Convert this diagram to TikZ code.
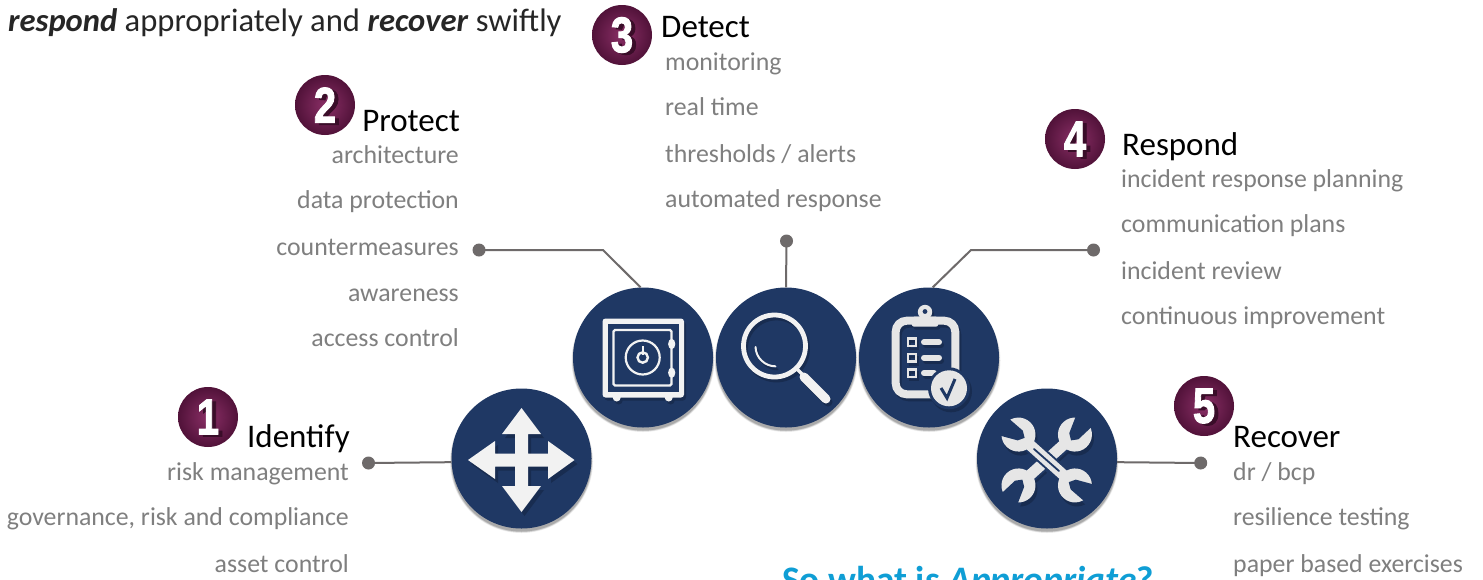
\documentclass[tikz,border=0pt]{standalone}
\usepackage{fontspec}
\usepackage{graphicx}
\setmainfont{Carlito}
\newfontfamily\digitfont[BoldFeatures={FakeBold=2.2}]{Liberation Sans}
\definecolor{navy}{HTML}{1F3864}
\definecolor{navyshadow}{HTML}{182C50}
\definecolor{itemgray}{HTML}{7F7F7F}
\definecolor{linegray}{HTML}{6E6A6A}
\definecolor{iconlight}{HTML}{F2F2F2}
\definecolor{iconpale}{HTML}{E6E6E6}
\definecolor{plumin}{HTML}{8A2F66}
\definecolor{plumout}{HTML}{511239}
\definecolor{plumdark}{HTML}{3A0D29}
\definecolor{skyblue}{HTML}{0F9ED5}
\definecolor{leadtext}{HTML}{262626}
\tikzset{
  itemleft/.style={anchor=base west,inner sep=0pt,text=itemgray,font=\fontsize{25.8}{25.8}\selectfont},
  itemright/.style={anchor=base east,inner sep=0pt,text=itemgray,font=\fontsize{25.8}{25.8}\selectfont},
  headleft/.style={anchor=base west,inner sep=0pt,text=black,font=\fontsize{33}{33}\selectfont},
  headright/.style={anchor=base east,inner sep=0pt,text=black,font=\fontsize{33}{33}\selectfont},
  iconcircle/.style={circle,fill=navy,minimum size=140pt,inner sep=0pt},
  dotnode/.style={circle,fill=linegray,minimum size=13pt,inner sep=0pt},
  link/.style={draw=linegray,line width=2pt},
  badge/.style={circle,minimum size=60pt,inner sep=0pt,inner color=plumin,outer color=plumout,shade},
  digit/.style={inner sep=0pt,font=\digitfont\bfseries\fontsize{50}{50}\selectfont},
}
\newcommand{\softshadow}[2]{%
  \foreach \r/\o in {71.5/.06,71/.08,70.5/.1,70/.14}{\fill[black,opacity=\o] (#1,#2+3) circle (\r);}}
\newcommand{\numberbadge}[4]{%
  \node[badge] (#1) at (#2,#3) {};
  \node[digit,text=plumdark] (#1s) at (#2+4,#3+2) {\scalebox{.8}[1]{#4}};
  \node[digit,text=white] (#1d) at (#2,#3) {\scalebox{.8}[1]{#4}};}
\newcommand{\arrowicon}[1]{%
  \fill[#1] (521.5,408)--(541,434)--(528,434)--(528,453.5)--(548,453.5)--(548,441)--(574.5,460)--(548,479)--(548,466.5)--(528,466.5)--(528,486)--(541,486)--(521.5,512)--(502,486)--(515,486)--(515,466.5)--(495,466.5)--(495,479)--(468,460)--(495,441)--(495,453.5)--(515,453.5)--(515,434)--(502,434)--cycle;}
\newcommand{\safeicon}[2]{%
  \fill[#1,rounded corners=3pt] (602.5,318.5) rectangle (684,397.5);
  \fill[#1] (616.7,397.5) circle (4) (668.7,397.5) circle (4);
  \fill[#2] (607.5,323.5) rectangle (679,391.5);
  \draw[#1,line width=2.2pt,rounded corners=1.5pt] (613.5,330) rectangle (671.5,385.5);
  \draw[#1,line width=2.2pt] (642.7,357.5) circle (17);
  \draw[#1,line width=2.4pt] (642.7,357.5) circle (5.2);
  \draw[#1,line width=2.2pt] (642.7,346) -- (642.7,355);
  \fill[#1] (671.7,344) ellipse (3.6 and 5.2);
  \fill[#1] (671.7,372.7) ellipse (3.6 and 5.2);}
\newcommand{\lensicon}[1]{%
  \draw[#1,line width=4.8pt] (774.5,346) circle (31);
  \draw[#1,line width=2pt,line cap=round] (755.5,347) arc[start angle=178,end angle=90,radius=20];
  \draw[#1,line width=3.4pt] (797,369) -- (805,377);
  \draw[#1,line width=9pt,line cap=round] (804,377) -- (826,399);}
\newcommand{\clipicon}[2]{%
  \draw[#1,line width=8pt,rounded corners=11pt] (895.7,320.7) rectangle (955.3,394.3);
  \fill[#1] (925,312) circle (7.2);
  \fill[#1,rounded corners=2.5pt] (911.7,316.7) rectangle (938.3,326.7);
  \fill[#2] (925,311.5) circle (2.4);
  \foreach \yy in {342.3,357.7,373.3}{\draw[#1,line width=2.2pt] (908,\yy-3.8) rectangle (916,\yy+3.8);}
  \draw[#1,line width=6pt,line cap=round] (924,342.3) -- (939,342.3) (924,357.7) -- (939,357.7) (924,373) -- (934,373);
  \fill[#2] (949,388.3) circle (21);
  \fill[#1] (949,388.3) circle (18);
  \draw[#2,line width=3pt] (941,388) -- (947,398) -- (955,379);}
\newcommand{\wrenchicon}[3]{%
  \begin{scope}[shift={(1046.7,460)},rotate=#1]
    \draw[#3,line width=15pt] (-26,0) -- (26,0);
    \draw[#2,line width=11pt] (-38,0) -- (38,0);
    \fill[#2] (-38,0) circle (17) (38,0) circle (17);
    \fill[#3,rotate around={14:(-38,0)}] (-36,-5.5) -- (-31,0) -- (-36,5.5) -- (-60,11) -- (-60,-11) -- cycle;
    \fill[#3,rotate around={14:(38,0)}] (36,-5.5) -- (31,0) -- (36,5.5) -- (60,11) -- (60,-11) -- cycle;
  \end{scope}}
\begin{document}
\begin{tikzpicture}[x=1pt,y=-1pt]
\useasboundingbox (0,0) rectangle (1483,579);
\clip (0,0) rectangle (1483,579);
\fill[white] (0,0) rectangle (1483,579);
% connector end points
\node[dotnode] (dotI) at (368.5,463) {};
\node[dotnode] (dotP) at (479,250) {};
\node[dotnode] (dotD) at (786.5,241) {};
\node[dotnode] (dotR) at (1093.5,250) {};
\node[dotnode] (dotV) at (1200.7,463) {};
\coordinate (kneeP) at (603,250);
\coordinate (kneeR) at (971,250);
% shadows and circles
\softshadow{521.5}{458.5}
\softshadow{1047}{458.5}
\softshadow{643}{357.5}
\softshadow{786}{357.5}
\softshadow{929}{357.5}
\node[iconcircle] (circI) at (521.5,458.5) {};
\node[iconcircle] (circP) at (643,357.5) {};
\node[iconcircle] (circD) at (786,357.5) {};
\node[iconcircle] (circR) at (929,357.5) {};
\node[iconcircle] (circV) at (1047,458.5) {};
% connectors
\draw[link] (dotI.center) -- (circI.183.7);
\draw[link] (dotP.center) -- (kneeP) -- (circP.92);
\draw[link] (dotD.center) -- (circD.north);
\draw[link] (dotR.center) -- (kneeR) -- (circR.87);
\draw[link] (dotV.center) -- (circV.-3.7);
% icons
\begin{scope}[shift={(3,4)}]\arrowicon{navyshadow}\end{scope}
\arrowicon{iconlight}
\begin{scope}[shift={(2,3)}]\safeicon{navyshadow}{navyshadow}\end{scope}
\safeicon{iconlight}{navy}
\begin{scope}[shift={(2,3)}]\lensicon{navyshadow}\end{scope}
\lensicon{iconlight}
\begin{scope}[shift={(2,3)}]\clipicon{navyshadow}{navyshadow}\end{scope}
\clipicon{iconpale}{navy}
\begin{scope}[shift={(2,4)}]\wrenchicon{42}{navyshadow}{navy}\wrenchicon{-42}{navyshadow}{navy}\end{scope}
\wrenchicon{42}{iconpale}{navy}
\wrenchicon{-42}{iconpale}{navy}
\draw[navy,line width=1.8pt,line cap=round] (1034,449) -- (1059,471);
% badges
\numberbadge{badgeI}{208}{417}{1}
\numberbadge{badgeP}{325}{105}{2}
\numberbadge{badgeD}{622}{35}{3}
\numberbadge{badgeR}{1075}{139}{4}
\numberbadge{badgeV}{1204}{406}{5}
% lead text
\node[anchor=base west,inner sep=0pt,text=leadtext,font=\fontsize{32.6}{32.6}\selectfont] (lead) at (8,31) {\textbf{\textit{respond}} appropriately and \textbf{\textit{recover}} swiftly};
% identify
\node[headright] (hI) at (350,447) {Identify};
\node[itemright] (i1) at (349,480) {risk management};
\node[itemright] (i2) at (349,525) {governance, risk and compliance};
\node[itemright] (i3) at (349,572) {asset control};
% protect
\node[headright] (hP) at (460,131) {Protect};
\node[itemright] (p1) at (459,163) {architecture};
\node[itemright] (p2) at (459,208) {data protection};
\node[itemright] (p3) at (459,255) {countermeasures};
\node[itemright] (p4) at (459,301) {awareness};
\node[itemright] (p5) at (459,346) {access control};
% detect
\node[headleft] (hD) at (661,37) {Detect};
\node[itemleft] (d1) at (665,70) {monitoring};
\node[itemleft] (d2) at (665,115) {real time};
\node[itemleft] (d3) at (665,162) {thresholds / alerts};
\node[itemleft] (d4) at (665,207) {automated response};
% respond
\node[headleft] (hR) at (1122,155) {Respond};
\node[itemleft] (r1) at (1121,187) {incident response planning};
\node[itemleft] (r2) at (1121,232) {communication plans};
\node[itemleft] (r3) at (1121,279) {incident review};
\node[itemleft] (r4) at (1121,324) {continuous improvement};
% recover
\node[headleft] (hV) at (1233,447) {Recover};
\node[itemleft] (v1) at (1233,480) {dr / bcp};
\node[itemleft] (v2) at (1233,525) {resilience testing};
\node[itemleft] (v3) at (1233,572) {paper based exercises};
% question
\node[anchor=base west,inner sep=0pt,text=skyblue,font=\bfseries\fontsize{37.4}{37.4}\selectfont] (ask) at (782,592) {So what is \textit{Appropriate}?};
\end{tikzpicture}
\end{document}
